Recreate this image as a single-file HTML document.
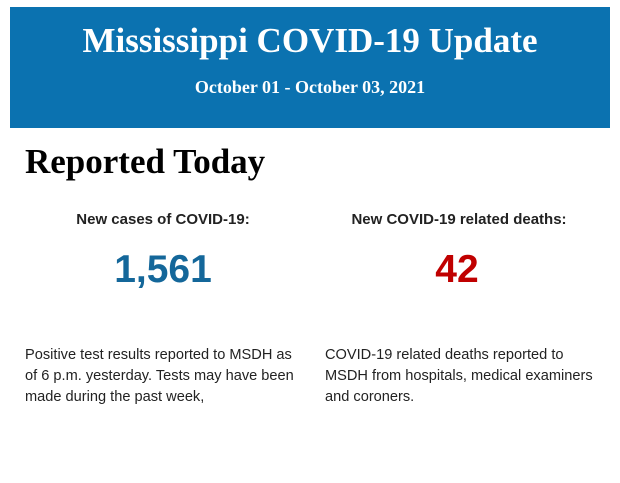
<!DOCTYPE html>
<html><head><style>
body{margin:0;width:620px;height:483px;background:#fff;position:relative;overflow:hidden}
.hdr{position:absolute;left:10px;top:7px;width:600px;height:121px;background:#0b72b0;color:#fff;text-align:center;font-family:"Liberation Serif",serif;font-weight:bold}
.t{position:absolute;left:0;width:600px;top:14px;font-size:35px}
.d{position:absolute;left:0;width:600px;top:70px;font-size:18px}
.h2{position:absolute;left:25px;top:142px;font-family:"Liberation Serif",serif;font-weight:bold;font-size:35px;color:#000}
.lab{position:absolute;top:211px;font-family:"Liberation Sans",sans-serif;font-weight:bold;font-size:15px;color:#222;text-align:center;width:300px}
.num{position:absolute;top:248px;font-family:"Liberation Sans",sans-serif;font-weight:bold;font-size:39px;text-align:center;width:300px}
.p{position:absolute;top:345px;font-family:"Liberation Sans",sans-serif;font-size:14.6px;line-height:21px;color:#222}
</style></head><body>
<div class="hdr"><div class="t">Mississippi COVID-19 Update</div><div class="d">October 01 - October 03, 2021</div></div>
<div class="h2">Reported Today</div>
<div class="lab" style="left:13px">New cases of COVID-19:</div>
<div class="lab" style="left:309px">New COVID-19 related deaths:</div>
<div class="num" style="left:13px;color:#14679a">1,561</div>
<div class="num" style="left:307px;color:#c00000">42</div>
<div class="p" style="left:25px">Positive test results reported to MSDH as<br>of 6 p.m. yesterday. Tests may have been<br>made during the past week,</div>
<div class="p" style="left:325px">COVID-19 related deaths reported to<br>MSDH from hospitals, medical examiners<br>and coroners.</div>
</body></html>
